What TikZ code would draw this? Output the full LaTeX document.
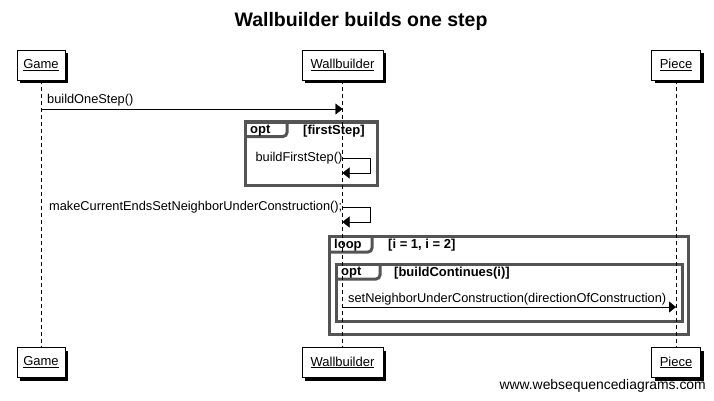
\documentclass[tikz,border=0pt]{standalone}
\usepackage{fontspec}
\setmainfont{Liberation Sans}
\usetikzlibrary{positioning,arrows.meta,shadows}

\begin{document}
\begin{tikzpicture}[x=1pt,y=-1pt,
    actor/.style={draw,fill=white,minimum height=30pt,inner sep=2pt,font=\fontsize{13}{15}\selectfont,
      drop shadow={shadow xshift=3pt,shadow yshift=-3pt,fill=black,opacity=1}},
    life/.style={dash pattern=on 4pt off 3pt},
    msg/.style={-{Triangle[length=7pt,width=11pt]}},
    lbl/.style={inner sep=0pt,font=\fontsize{12.8}{15}\selectfont},
    frame/.style={draw=black!67,line width=3pt},
    tag/.style={inner sep=0pt,font=\bfseries\fontsize{13}{15}\selectfont}]
  \useasboundingbox (0,0) rectangle (714,401);
  \node[font=\bfseries\fontsize{19.5}{22}\selectfont] (title) at (361,21) {Wallbuilder builds one step};

  % participants
  \node[actor,minimum width=48pt] (game) at (41,65) {\underline{Game}};
  \node[actor,minimum width=81pt] (wall) at (342.5,65) {\underline{Wallbuilder}};
  \node[actor,minimum width=49pt] (piece) at (676,65) {\underline{Piece}};
  \node[actor,minimum width=48pt] (gameb) at (41,362.5) {\underline{Game}};
  \node[actor,minimum width=81pt] (wallb) at (342.5,362.5) {\underline{Wallbuilder}};
  \node[actor,minimum width=49pt] (pieceb) at (676,362.5) {\underline{Piece}};

  % frames
  \draw[frame] (245,122) rectangle (377,185);
  \draw[frame] (245,136.5) -- (283,136.5) to[out=0,in=-90] (287,132.5) -- (287,122);
  \node[tag,anchor=west] (opt1) at (250,131) {opt};
  \node[tag,anchor=west] (cond1) at (303,131) {[firstStep]};

  \draw[frame] (329,236) rectangle (688,334);
  \draw[frame] (329,252) -- (368,252) to[out=0,in=-90] (372,248) -- (372,236);
  \node[tag,anchor=west] (loop) at (334,245) {loop};
  \node[tag,anchor=west] (cond2) at (388,245) {[i = 1, i = 2]};

  \draw[frame] (336,264) rectangle (682,321);
  \draw[frame] (336,279) -- (376,279) to[out=0,in=-90] (380,275) -- (380,264);
  \node[tag,anchor=west] (opt2) at (341,273) {opt};
  \node[tag,anchor=west] (cond3) at (394,273) {[buildContinues(i)]};

  % lifelines
  \draw[life] (game) -- (gameb);
  \draw[life] (wall) -- (wallb);
  \draw[life] (piece) -- (pieceb);

  % messages
  \draw[msg] (game |- 0,109) -- (wall |- 0,109);
  \node[lbl,anchor=west] (m1) at (47,100) {buildOneStep()};

  \coordinate (s1) at (wall |- 0,158);
  \coordinate (e1) at (wall |- 0,173);
  \draw[msg] (s1) -- ++(28,0) |- (e1);
  \node[lbl,anchor=east] (m2) at (s1) {buildFirstStep()};

  \coordinate (s2) at (wall |- 0,207);
  \coordinate (e2) at (wall |- 0,222);
  \draw[msg] (s2) -- ++(28,0) |- (e2);
  \node[lbl,anchor=east] (m3) at (s2) {makeCurrentEndsSetNeighborUnderConstruction();};

  \draw[msg] (wall |- 0,307) -- (piece |- 0,307);
  \node[lbl,anchor=west] (m4) at (348,299.5) {setNeighborUnderConstruction(directionOfConstruction)};

  \node[lbl,anchor=east,font=\fontsize{13.9}{16}\selectfont] (wsd) at (706,386) {www.websequencediagrams.com};
\end{tikzpicture}
\end{document}
